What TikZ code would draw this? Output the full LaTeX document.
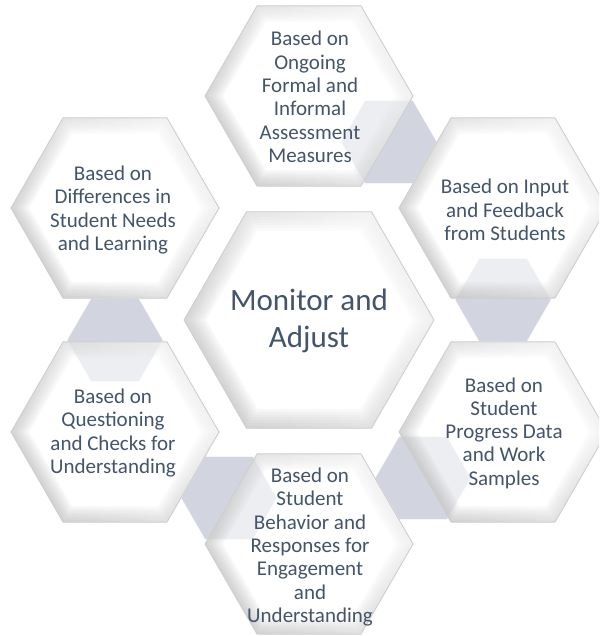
\documentclass[tikz,border=0pt]{standalone}
\usepackage{fontspec}
\usetikzlibrary{shadings}
\setmainfont{Carlito}
\definecolor{txt}{HTML}{44546A}
\definecolor{conn}{RGB}{210,213,223}
\newcommand\hexp[3]{(#1+#3,#2) -- ++(120:#3) -- ++(180:#3) -- ++(240:#3) -- ++(300:#3) -- ++(0:#3) -- cycle}
\newcommand\bighex[4]{% x y r inset
  \fill[white, fill opacity=0.6] \hexp{#1}{#2}{#3};
  \foreach \k in {1,...,7}{%
    \shade[even odd rule, upper left=black!22, upper right=black!2, lower left=black!34, lower right=black!14, opacity=0.11]
       \hexp{#1}{#2}{#3} \hexp{#1}{#2}{#3-#4*\k/7};
  }
  \draw[black!19, line width=0.9pt, line join=round] \hexp{#1}{#2}{#3};
}
\newcommand\smallhex[2]{%
  \fill[conn] \hexp{#1}{#2}{48};
  \draw[white, line width=0.8pt, opacity=0.7] \hexp{#1}{#2}{48};
}
\tikzset{
  lbl/.style={text=txt, align=center, inner sep=0pt, font=\fontsize{21}{23.3}\selectfont},
  mainlbl/.style={text=txt, align=center, inner sep=0pt, font=\fontsize{31}{36.7}\selectfont}
}
\begin{document}
\begin{tikzpicture}[x=1pt,y=-1pt]
\useasboundingbox (0,0) rectangle (599,636);
\clip (0,0) rectangle (599,636);
\fill[white] (0,0) rectangle (599,636);
% connector hexagons
\smallhex{389}{142}
\smallhex{503}{300}
\smallhex{423}{478}
\smallhex{229}{498}
\smallhex{115}{340}
% outer hexagons
\bighex{309}{96}{104}{18}
\bighex{503}{208}{104}{18}
\bighex{503}{432}{104}{18}
\bighex{309}{544}{104}{18}
\bighex{115}{432}{104}{18}
\bighex{115}{208}{104}{18}
% centre hexagon
\bighex{309}{320}{125}{22}
% texts
\node[mainlbl] (centre) at (309,321) {Monitor and\\Adjust};
\node[lbl] (ongoing) at (310,97) {Based on\\Ongoing\\Formal and\\Informal\\Assessment\\Measures};
\node[lbl] (input) at (505,210) {Based on Input\\and Feedback\\from Students};
\node[lbl] (progress) at (504,433) {Based on\\Student\\Progress Data\\and Work\\Samples};
\node[lbl] (behavior) at (310,547) {Based on\\Student\\Behavior and\\Responses for\\Engagement\\and\\Understanding};
\node[lbl] (question) at (113,433) {Based on\\Questioning\\and Checks for\\Understanding};
\node[lbl] (differ) at (113,210) {Based on\\Differences in\\Student Needs\\and Learning};
\end{tikzpicture}
\end{document}
